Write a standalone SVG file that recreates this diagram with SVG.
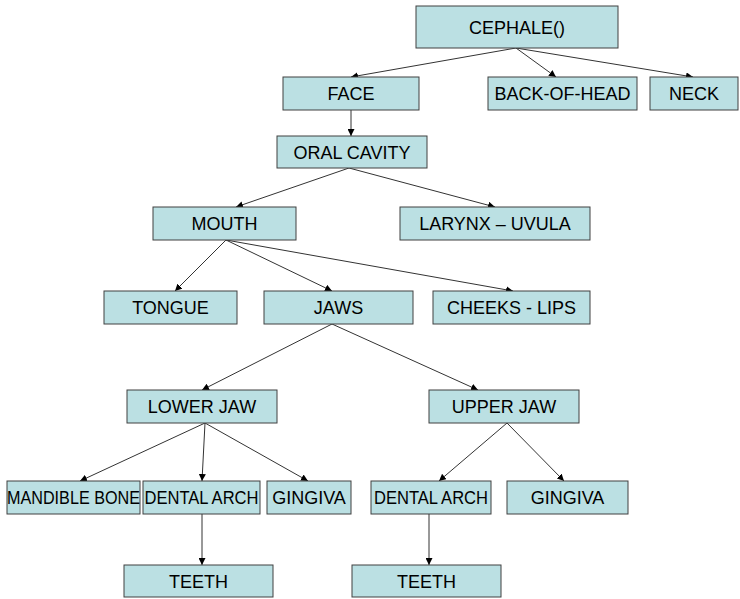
<svg xmlns="http://www.w3.org/2000/svg" width="740" height="599" viewBox="0 0 740 599">
<style>
.b{fill:#BBE0E3;stroke:#404040;stroke-width:1}
.t{font-family:"Liberation Sans",Arial,sans-serif;font-size:18px;fill:#000;text-anchor:middle}
.c{stroke:#333;stroke-width:1;fill:none;marker-end:url(#ah)}
</style>
<defs>
<marker id="ah" viewBox="0 0 10 10" refX="10" refY="5" markerWidth="7" markerHeight="7" markerUnits="userSpaceOnUse" orient="auto">
<path d="M0,0 L10,5 L0,10 z" fill="#000"/>
</marker>
</defs>
<rect width="740" height="599" fill="#fff"/>
<g id="connectors">
<line class="c" x1="516" y1="48" x2="351" y2="77"/>
<line class="c" x1="516" y1="48" x2="556" y2="77"/>
<line class="c" x1="516" y1="48" x2="693" y2="77"/>
<line class="c" x1="351" y1="110" x2="351" y2="136"/>
<line class="c" x1="349" y1="168" x2="236" y2="207"/>
<line class="c" x1="349" y1="168" x2="495" y2="207"/>
<line class="c" x1="226" y1="240" x2="175" y2="291"/>
<line class="c" x1="226" y1="240" x2="332" y2="291"/>
<line class="c" x1="226" y1="240" x2="513" y2="291"/>
<line class="c" x1="332" y1="324" x2="202" y2="390"/>
<line class="c" x1="332" y1="324" x2="478" y2="390"/>
<line class="c" x1="205" y1="423" x2="80" y2="481"/>
<line class="c" x1="205" y1="423" x2="202" y2="481"/>
<line class="c" x1="205" y1="423" x2="308" y2="481"/>
<line class="c" x1="507" y1="423" x2="439" y2="481"/>
<line class="c" x1="507" y1="423" x2="564" y2="481"/>
<line class="c" x1="202" y1="514" x2="202" y2="565"/>
<line class="c" x1="429" y1="514" x2="429" y2="565"/>
</g>
<g id="cephale"><rect class="b" x="416" y="6" width="202" height="42"/><text class="t" x="517" y="33.5">CEPHALE()</text></g>
<g id="face"><rect class="b" x="283" y="77" width="136" height="33"/><text class="t" x="351" y="100">FACE</text></g>
<g id="back-of-head"><rect class="b" x="488" y="77" width="149" height="33"/><text class="t" x="562.5" y="100">BACK-OF-HEAD</text></g>
<g id="neck"><rect class="b" x="650" y="77" width="88" height="33"/><text class="t" x="694" y="100">NECK</text></g>
<g id="oral-cavity"><rect class="b" x="277" y="136" width="150" height="32"/><text class="t" x="352" y="159">ORAL CAVITY</text></g>
<g id="mouth"><rect class="b" x="153" y="207" width="143" height="33"/><text class="t" x="224.5" y="230">MOUTH</text></g>
<g id="larynx-uvula"><rect class="b" x="400" y="207" width="190" height="33"/><text class="t" x="495" y="230">LARYNX – UVULA</text></g>
<g id="tongue"><rect class="b" x="104" y="291" width="133" height="33"/><text class="t" x="170.5" y="314">TONGUE</text></g>
<g id="jaws"><rect class="b" x="264" y="291" width="149" height="33"/><text class="t" x="338.5" y="314">JAWS</text></g>
<g id="cheeks-lips"><rect class="b" x="433" y="291" width="157" height="33"/><text class="t" x="511.5" y="314">CHEEKS - LIPS</text></g>
<g id="lower-jaw"><rect class="b" x="127" y="390" width="150" height="33"/><text class="t" x="202" y="413">LOWER JAW</text></g>
<g id="upper-jaw"><rect class="b" x="429" y="390" width="150" height="33"/><text class="t" x="504" y="413">UPPER JAW</text></g>
<g id="mandible-bone"><rect class="b" x="7" y="481" width="133" height="33"/><text class="t" x="73.5" y="504" textLength="133" lengthAdjust="spacingAndGlyphs">MANDIBLE BONE</text></g>
<g id="dental-arch-lower"><rect class="b" x="143" y="481" width="117" height="33"/><text class="t" x="201.5" y="504" textLength="114" lengthAdjust="spacingAndGlyphs">DENTAL ARCH</text></g>
<g id="gingiva-lower"><rect class="b" x="267" y="481" width="84" height="33"/><text class="t" x="309" y="504">GINGIVA</text></g>
<g id="dental-arch-upper"><rect class="b" x="371" y="481" width="120" height="33"/><text class="t" x="431" y="504" textLength="114" lengthAdjust="spacingAndGlyphs">DENTAL ARCH</text></g>
<g id="gingiva-upper"><rect class="b" x="507" y="481" width="121" height="33"/><text class="t" x="567.5" y="504">GINGIVA</text></g>
<g id="teeth-lower"><rect class="b" x="124" y="565" width="149" height="32"/><text class="t" x="198.5" y="588">TEETH</text></g>
<g id="teeth-upper"><rect class="b" x="352" y="565" width="149" height="32"/><text class="t" x="426.5" y="588">TEETH</text></g>
</svg>
